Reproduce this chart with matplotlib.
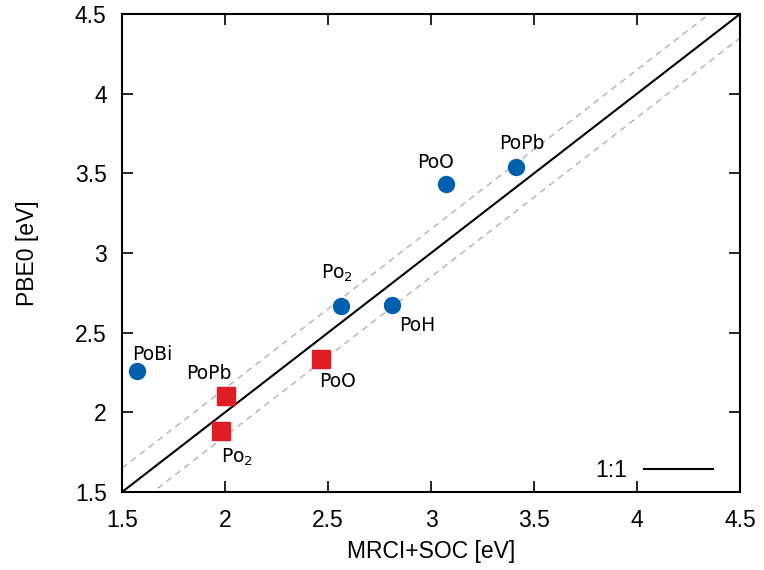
import numpy as np
import matplotlib
matplotlib.use('Agg')
import matplotlib.pyplot as plt

# blue circles
blue_x = [1.573, 2.563, 2.811, 3.073, 3.413]
blue_y = [2.26, 2.667, 2.673, 3.433, 3.54]
blue_lab = ['PoBi', 'Po$_2$', 'PoH', 'PoO', 'PoPb']
blue_lab_xy = [(1.646, 2.366), (2.544, 2.875), (2.935, 2.548), (3.024, 3.565), (3.442, 3.69)]

# red squares
red_x = [2.005, 1.98, 2.466]
red_y = [2.10, 1.883, 2.335]
red_lab = ['PoPb', 'Po$_2$', 'PoO']
red_lab_xy = [(1.922, 2.246), (2.06, 1.715), (2.544, 2.196)]

band = 0.15
lims = [1.5, 4.5]
ticks = [1.5, 2, 2.5, 3, 3.5, 4, 4.5]
ticklabels = ['1.5', '2', '2.5', '3', '3.5', '4', '4.5']

fig = plt.figure(figsize=(7.64, 5.7), dpi=100)
ax = fig.add_axes([0.1597, 0.1368, 0.8089, 0.8386])

xx = np.array(lims)
ax.plot(xx, xx + band, color='#aaaaaa', lw=0.9, dashes=(5, 4))
ax.plot(xx, xx - band, color='#aaaaaa', lw=0.9, dashes=(5, 4))
ax.plot(xx, xx, color='black', lw=1.5, label='1:1')

ax.plot(blue_x, blue_y, 'o', color='#0060ad', ms=11.5, mec='#0060ad', ls='none')
ax.plot(red_x, red_y, 's', color='#e01d25', ms=12.5, mec='#e01d25', ls='none')

for t, (lx, ly) in zip(blue_lab, blue_lab_xy):
    ax.text(lx, ly, t, ha='center', va='center', fontsize=13.5, family='DejaVu Sans')
for t, (lx, ly) in zip(red_lab, red_lab_xy):
    ax.text(lx, ly, t, ha='center', va='center', fontsize=13.5, family='DejaVu Sans')

ax.set_xlim(lims)
ax.set_ylim(lims)
ax.set_xticks(ticks)
ax.set_yticks(ticks)
ax.set_xticklabels(ticklabels, family='Liberation Sans', fontsize=16.5)
ax.set_yticklabels(ticklabels, family='Liberation Sans', fontsize=16.5)
ax.tick_params(direction='in', top=True, right=True, length=8, width=1.2)
ax.tick_params(axis='x', pad=12)
ax.tick_params(axis='y', pad=11)
for s in ax.spines.values():
    s.set_linewidth(1.5)

ax.set_xlabel('MRCI+SOC [eV]', family='Liberation Sans', fontsize=16.5, labelpad=6)
ax.set_ylabel('PBE0 [eV]', family='Liberation Sans', fontsize=16.5, labelpad=26)

leg = ax.legend(loc='center right', bbox_to_anchor=(0.9563, 0.044), frameon=False,
                markerfirst=False, prop={'family': 'Liberation Sans', 'size': 16.5},
                handlelength=3.0, handletextpad=0.75, borderpad=0, borderaxespad=0)

fig.savefig('out.png', dpi=100)
